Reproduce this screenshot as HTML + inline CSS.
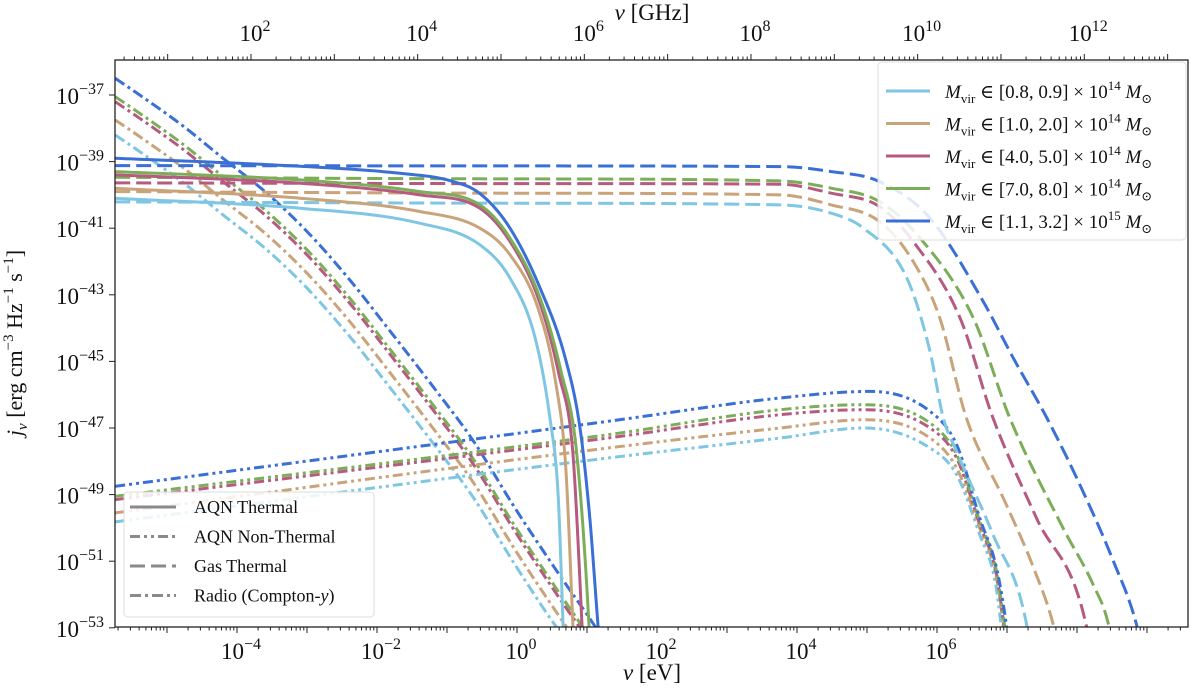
<!DOCTYPE html>
<html><head><meta charset="utf-8">
<style>
html,body{margin:0;padding:0;background:#fff;width:1200px;height:691px;overflow:hidden;}
svg{display:block;font-family:"Liberation Serif","DejaVu Serif",serif;}
</style></head>
<body>
<svg id="chart" width="1200" height="691" viewBox="0 0 1200 691" xmlns="http://www.w3.org/2000/svg">
<defs><clipPath id="plotclip"><rect x="115" y="60" width="1073" height="567"/></clipPath></defs>
<g id="curves" clip-path="url(#plotclip)"></g>
<g id="axes"></g>
</svg>
<script>
// ---- data (log10 nu [eV], log10 j_nu) ----
const massLabels = ["[0.8, 0.9]", "[1.0, 2.0]", "[4.0, 5.0]", "[7.0, 8.0]", "[1.1, 3.2]"];
const massExps = ["14", "14", "14", "14", "15"];
const colors = ["#7ec6e3", "#c9a379", "#b65a80", "#7cad58", "#3a6fd6"];
const xTickExps = [-4, -2, 0, 2, 4, 6];
const yTickExps = [-37, -39, -41, -43, -45, -47, -49, -51, -53];
const topTickExps = [2, 4, 6, 8, 10, 12];

// Radio (Compton-y)
const radioX = [-5.74, -5.39, -4.79, -4.20, -3.60, -3.00, -2.41, -1.81, -1.22, -0.62, -0.03, 0.57, 1.16, 1.52];
const radioY_lb = [-38.2, -38.7, -39.6, -40.6, -41.6, -42.8, -44.2, -45.8, -47.4, -49.1, -51.1, -53.0, -54.6, -55];
const radioY_tan = [-37.75, -38.25, -39.15, -40.15, -41.15, -42.35, -43.75, -45.35, -46.95, -48.65, -50.65, -52.55, -54.3, -55];
const radioY_pink = [-37.2, -37.7, -38.6, -39.6, -40.6, -41.8, -43.2, -44.8, -46.4, -48.1, -50.1, -52.0, -53.8, -55];
const radioY_green = [-37.05, -37.55, -38.45, -39.45, -40.45, -41.65, -43.05, -44.65, -46.25, -47.95, -49.95, -51.85, -53.65, -54.8];
const radioY_blue = [-36.5, -37.0, -37.9, -38.9, -39.9, -41.1, -42.5, -44.1, -45.7, -47.4, -49.4, -51.3, -53.1, -54.3];

// AQN thermal
const thX_lb = [-5.74, -3.1, -1.39, -0.53, -0.1, 0.26, 0.47, 0.59, 0.66, 0.68];
const thY_lb = [-40.1, -40.4, -40.85, -41.5, -42.5, -44.3, -46.7, -49.1, -53.0, -54];
const thX_tan = [-5.74, -3.1, -1.39, -0.53, -0.1, 0.3, 0.55, 0.7, 0.8, 0.82];
const thY_tan = [-39.8, -40.1, -40.5, -41.0, -41.8, -43.4, -45.6, -48.3, -53.0, -54];
const thX_pink = [-5.74, -3.1, -1.39, -0.53, -0.1, 0.32, 0.6, 0.8, 0.93, 0.95];
const thY_pink = [-39.4, -39.65, -40.0, -40.4, -41.4, -43.2, -45.4, -47.8, -53.0, -54];
const thX_green = [-5.74, -3.1, -1.39, -0.53, -0.1, 0.33, 0.63, 0.85, 1.03, 1.05];
const thY_green = [-39.3, -39.55, -39.9, -40.3, -41.3, -43.1, -45.3, -47.7, -53.0, -54];
const thX_blue = [-5.74, -3.1, -1.67, -0.96, -0.53, -0.1, 0.33, 0.69, 0.9, 1.04, 1.16, 1.2];
const thY_blue = [-38.9, -39.14, -39.35, -39.57, -39.96, -41.0, -42.8, -44.9, -47.0, -49.7, -53.0, -54];

// AQN non-thermal
const ntX_lb = [-5.74, 1.30, 3.76, 4.97, 5.90, 6.28, 6.61, 6.83, 6.92, 6.97];
const ntY_lb = [-49.82, -47.9, -47.3, -47.0, -47.6, -48.4, -50.2, -51.6, -53, -54];
const ntX_tan = [-5.74, 1.30, 3.76, 4.97, 5.90, 6.28, 6.61, 6.85, 6.95, 6.99];
const ntY_tan = [-49.55, -47.6, -47.0, -46.75, -47.3, -48.2, -50.0, -51.5, -53, -54];
const ntX_pink = [-5.74, 1.30, 3.76, 4.95, 5.90, 6.28, 6.61, 6.85, 6.96, 7.02];
const ntY_pink = [-49.15, -47.3, -46.6, -46.45, -47.0, -47.9, -49.9, -51.4, -53, -54];
const ntX_green = [-5.74, 1.30, 3.76, 4.95, 5.90, 6.28, 6.61, 6.85, 6.97, 7.03];
const ntY_green = [-49.05, -47.2, -46.45, -46.3, -46.85, -47.8, -49.8, -51.3, -53, -54];
const ntX_blue = [-5.74, 1.30, 3.76, 5.04, 5.90, 6.28, 6.61, 6.85, 6.99, 7.05];
const ntY_blue = [-48.75, -46.8, -46.1, -45.9, -46.5, -47.5, -49.7, -51.2, -52.9, -54];

// Gas thermal
const gasX_lb = [-5.74, 0, 3.76, 4.49, 4.95, 5.57, 5.90, 6.09, 6.28, 6.80, 7.28, 7.35];
const gasY_lb = [-40.21, -40.25, -40.3, -40.55, -41.0, -42.5, -44.7, -46.7, -47.7, -50.2, -52.9, -54];
const gasX_tan = [-5.74, 0, 3.76, 4.49, 5.18, 5.66, 6.04, 6.42, 6.99, 7.38, 7.66, 7.77];
const gasY_tan = [-39.9, -39.95, -40.0, -40.3, -40.8, -42.0, -43.7, -46.7, -49.3, -51.2, -52.9, -54];
const gasX_pink = [-5.74, 0, 3.76, 4.49, 5.18, 5.66, 6.33, 6.80, 7.42, 8.13, 8.21];
const gasY_pink = [-39.64, -39.66, -39.68, -39.95, -40.35, -41.4, -43.7, -46.7, -49.7, -52.9, -54];
const gasX_green = [-5.74, 0, 3.76, 4.49, 5.18, 5.76, 6.52, 7.04, 7.80, 8.23, 8.45, 8.54];
const gasY_green = [-39.47, -39.52, -39.58, -39.8, -40.2, -41.3, -43.7, -46.7, -50.0, -51.7, -52.9, -54];
const gasX_blue = [-5.74, 0, 3.76, 4.49, 5.18, 5.90, 6.66, 7.09, 7.57, 8.04, 8.52, 8.85, 8.96];
const gasY_blue = [-39.12, -39.13, -39.15, -39.3, -39.6, -40.7, -43.2, -44.9, -46.7, -48.7, -51.0, -52.9, -54];

// ---- scales ----
const NS = "http://www.w3.org/2000/svg";
const PL = 115, PR = 1188, PT = 60, PB = 627;
function X(l) { return 517 + 70 * l; }
function Y(l) { return 95 - 33.3 * (l + 37); }
function XT(g) { return 251 + 83.33 * (g - 2); }
function mk(tag, attrs, parent) {
  const e = document.createElementNS(NS, tag);
  for (const k in attrs) e.setAttribute(k, attrs[k]);
  parent.appendChild(e);
  return e;
}
const curves = document.getElementById("curves");
const axes = document.getElementById("axes");
const keys = ["lb", "tan", "pink", "green", "blue"];
const dashes = { gas: "15,6", nt: "10,4,3,4,3,4", radio: "11,4,3,4", th: "" };
const sets = {
  radio: { x: [radioX, radioX, radioX, radioX, radioX], y: [radioY_lb, radioY_tan, radioY_pink, radioY_green, radioY_blue] },
  nt: { x: [ntX_lb, ntX_tan, ntX_pink, ntX_green, ntX_blue], y: [ntY_lb, ntY_tan, ntY_pink, ntY_green, ntY_blue] },
  gas: { x: [gasX_lb, gasX_tan, gasX_pink, gasX_green, gasX_blue], y: [gasY_lb, gasY_tan, gasY_pink, gasY_green, gasY_blue] },
  th: { x: [thX_lb, thX_tan, thX_pink, thX_green, thX_blue], y: [thY_lb, thY_tan, thY_pink, thY_green, thY_blue] }
};
// monotone cubic interpolation (Fritsch-Carlson) in pixel space
function smoothPath(xs, ys) {
  const px = xs.map(X), py = ys.map(Y), n = px.length;
  const d = [], m = new Array(n);
  for (let i = 0; i < n - 1; i++) d.push((py[i + 1] - py[i]) / (px[i + 1] - px[i]));
  m[0] = d[0]; m[n - 1] = d[n - 2];
  for (let i = 1; i < n - 1; i++) m[i] = (d[i - 1] * d[i] <= 0) ? 0 : (d[i - 1] + d[i]) / 2;
  for (let i = 0; i < n - 1; i++) {
    if (d[i] === 0) { m[i] = 0; m[i + 1] = 0; continue; }
    const a = m[i] / d[i], b = m[i + 1] / d[i], s = a * a + b * b;
    if (s > 9) { const t = 3 / Math.sqrt(s); m[i] = t * a * d[i]; m[i + 1] = t * b * d[i]; }
  }
  let p = "M" + px[0].toFixed(1) + "," + py[0].toFixed(1);
  for (let i = 0; i < n - 1; i++) {
    const h = (px[i + 1] - px[i]) / 3;
    p += " C" + (px[i] + h).toFixed(1) + "," + (py[i] + m[i] * h).toFixed(1) + " " +
      (px[i + 1] - h).toFixed(1) + "," + (py[i + 1] - m[i + 1] * h).toFixed(1) + " " +
      px[i + 1].toFixed(1) + "," + py[i + 1].toFixed(1);
  }
  return p;
}
["radio", "nt", "gas", "th"].forEach(kind => {
  for (let m = 0; m < 5; m++) {
    const path = mk("path", { d: smoothPath(sets[kind].x[m], sets[kind].y[m]), fill: "none", stroke: colors[m], "stroke-width": 3, "stroke-dasharray": dashes[kind] }, curves);
    
    
  }
});

// ---- frame ----
const frame = mk("rect", { x: PL, y: PT, width: PR - PL, height: PB - PT, fill: "none", stroke: "#222", "stroke-width": 1.3 }, axes);



// bottom ticks
for (let dec = -6; dec <= 10; dec++) {
  for (let k = 1; k <= 9; k++) {
    const l = dec + Math.log10(k);
    const x = X(l);
    if (x < PL || x > PR) continue;
    const len = k === 1 ? 6 : 3.5;
    const t = mk("line", { x1: x, x2: x, y1: PB, y2: PB + len, stroke: "#222", "stroke-width": 1 }, axes);
    
    
  }
}
// top ticks
for (let dec = 0; dec <= 14; dec++) {
  for (let k = 1; k <= 9; k++) {
    const g = dec + Math.log10(k);
    const x = XT(g);
    if (x < PL || x > PR) continue;
    const len = k === 1 ? 6 : 3.5;
    const t = mk("line", { x1: x, x2: x, y1: PT, y2: PT - len, stroke: "#222", "stroke-width": 1 }, axes);
    
    
  }
}
function powLabel(parent, x, y, exp, anchor, name) {
  const t = mk("text", { x: x, y: y, "font-size": 23, fill: "#111", "text-anchor": anchor }, parent);
  
  
  const a = mk("tspan", {}, t); a.textContent = "10";
  const b = mk("tspan", { dy: -10, "font-size": 16 }, t); b.textContent = exp;
  return t;
}
xTickExps.forEach(e => powLabel(axes, X(e) + 4, 659, String(e).replace("-", "\u2212"), "middle", "x-tick-label"));
topTickExps.forEach(e => powLabel(axes, XT(e) + 4, 41, String(e), "middle", "top-x-tick-label"));
yTickExps.forEach(e => {
  const y = Y(e);
  const t = mk("line", { x1: PL - 6, x2: PL, y1: y, y2: y, stroke: "#222", "stroke-width": 1 }, axes);
  
  
  powLabel(axes, 104, y + 9, String(e).replace("-", "\u2212"), "end", "y-tick-label");
});

// axis titles
const xt = mk("text", { x: 652, y: 680, "font-size": 23, "text-anchor": "middle", fill: "#111" }, axes);


xt.innerHTML = '<tspan font-style="italic">ν</tspan> [eV]';
const tt = mk("text", { x: 652, y: 20, "font-size": 23, "text-anchor": "middle", fill: "#111" }, axes);


tt.innerHTML = '<tspan font-style="italic">ν</tspan> [GHz]';
const yt = mk("text", { x: 0, y: 0, "font-size": 22, "text-anchor": "middle", fill: "#111", transform: "translate(22,343) rotate(-90)" }, axes);


yt.innerHTML = '<tspan font-style="italic">j</tspan><tspan font-style="italic" font-size="15" dy="5">ν</tspan><tspan dy="-5"> [erg cm</tspan><tspan font-size="15" dy="-9">−3</tspan><tspan dy="9"> Hz</tspan><tspan font-size="15" dy="-9">−1</tspan><tspan dy="9"> s</tspan><tspan font-size="15" dy="-9">−1</tspan><tspan dy="9">]</tspan>';

// mass legend
const lg = mk("g", {}, axes);


mk("rect", { x: 878, y: 62, width: 308, height: 178, rx: 4, fill: "#fff", "fill-opacity": 0.85, stroke: "#ddd" }, lg);
for (let m = 0; m < 5; m++) {
  const y = 91 + m * 32.5;
  const l = mk("line", { x1: 886, x2: 930, y1: y, y2: y, stroke: colors[m], "stroke-width": 3 }, lg);
  
  
  const t = mk("text", { x: 945, y: y + 7, "font-size": 19, fill: "#111" }, lg);
  
  
  t.innerHTML = '<tspan font-style="italic">M</tspan><tspan font-size="13" dy="5">vir</tspan><tspan dy="-5"> ∈ ' + massLabels[m] + ' × 10</tspan><tspan font-size="13" dy="-8">' + massExps[m] + '</tspan><tspan dy="8" font-style="italic"> M</tspan><tspan font-size="13" dy="5">⊙</tspan>';
}

// style legend
const sl = mk("g", {}, axes);


mk("rect", { x: 124, y: 492, width: 250, height: 125, rx: 4, fill: "#fff", "fill-opacity": 0.85, stroke: "#ddd" }, sl);
const styleNames = ["AQN Thermal", "AQN Non-Thermal", "Gas Thermal", "Radio (Compton-"];
const styleDash = ["", "10,4,3,4,3,4", "15,6", "11,4,3,4"];
for (let i = 0; i < 4; i++) {
  const y = 507 + i * 29.5;
  const l = mk("line", { x1: 130, x2: 176, y1: y, y2: y, stroke: "#8a8a8a", "stroke-width": 3, "stroke-dasharray": styleDash[i] }, sl);
  
  
  const t = mk("text", { x: 194, y: y + 6, "font-size": 18, fill: "#111" }, sl);
  
  
  t.textContent = styleNames[i];
  if (i === 3) {
    const a = mk("tspan", { "font-style": "italic" }, t); a.textContent = "y";
    const b = mk("tspan", {}, t); b.textContent = ")";
  }
}
</script>
</body></html>
